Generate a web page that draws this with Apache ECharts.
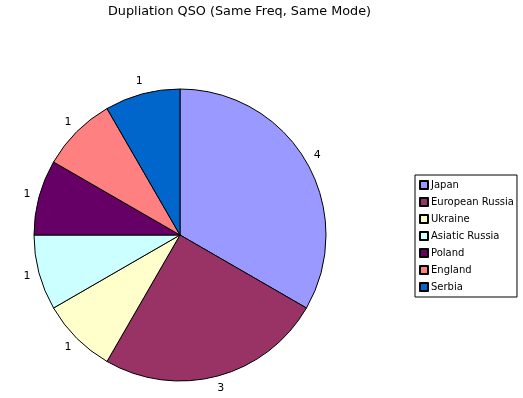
<!DOCTYPE html>
<html>
<head>
<meta charset="utf-8">
<script src="https://cdn.jsdelivr.net/npm/echarts@6/dist/echarts.min.js"></script>
<style>
  html, body { margin: 0; padding: 0; background: #fff; }
  #main { width: 523px; height: 398px; }
</style>
</head>
<body>
<div id="main"></div>
<script>
// data
const countries = ['Japan', 'European Russia', 'Ukraine', 'Asiatic Russia', 'Poland', 'England', 'Serbia'];
const counts = [4, 3, 1, 1, 1, 1, 1];
const colors = ['#9999FF', '#993366', '#FFFFCC', '#CCFFFF', '#660066', '#FF8080', '#0066CC'];

const chart = echarts.init(document.getElementById('main'));

const option = {
    animation: false,
    title: {
        text: 'Dupliation QSO (Same Freq, Same Mode)',
        left: 103,
        top: 0,
        textStyle: {
            fontFamily: 'DejaVu Sans',
            fontSize: 12.8,
            fontWeight: 'normal',
            color: '#000'
        }
    },
    legend: {
        orient: 'vertical',
        left: 415,
        top: 175,
        padding: [4, 3, 4, 4],
        borderColor: '#000',
        borderWidth: 1,
        itemWidth: 8,
        itemHeight: 8,
        itemGap: 5,
        icon: 'rect',
        textStyle: {
            fontFamily: 'DejaVu Sans',
            fontSize: 10,
            lineHeight: 12,
            color: '#000',
            padding: [0, 0, 0, -2]
        },
        data: countries
    },
    series: [{
        type: 'pie',
        center: [180, 235],
        radius: 146,
        startAngle: 90,
        clockwise: true,
        itemStyle: {
            borderColor: '#000',
            borderWidth: 1
        },
        label: {
            show: true,
            position: 'outside',
            formatter: '{c}',
            fontFamily: 'DejaVu Sans',
            fontSize: 11,
            color: '#000',
            distanceToLabelLine: 0,
            padding: [0, -4, 0, -4]
        },
        labelLine: {
            show: false,
            length: 13,
            length2: 0
        },
        emphasis: { disabled: true },
        data: countries.map((name, i) => ({
            name: name,
            value: counts[i],
            itemStyle: { color: colors[i] }
        }))
    }]
};

chart.setOption(option);
</script>
</body>
</html>
